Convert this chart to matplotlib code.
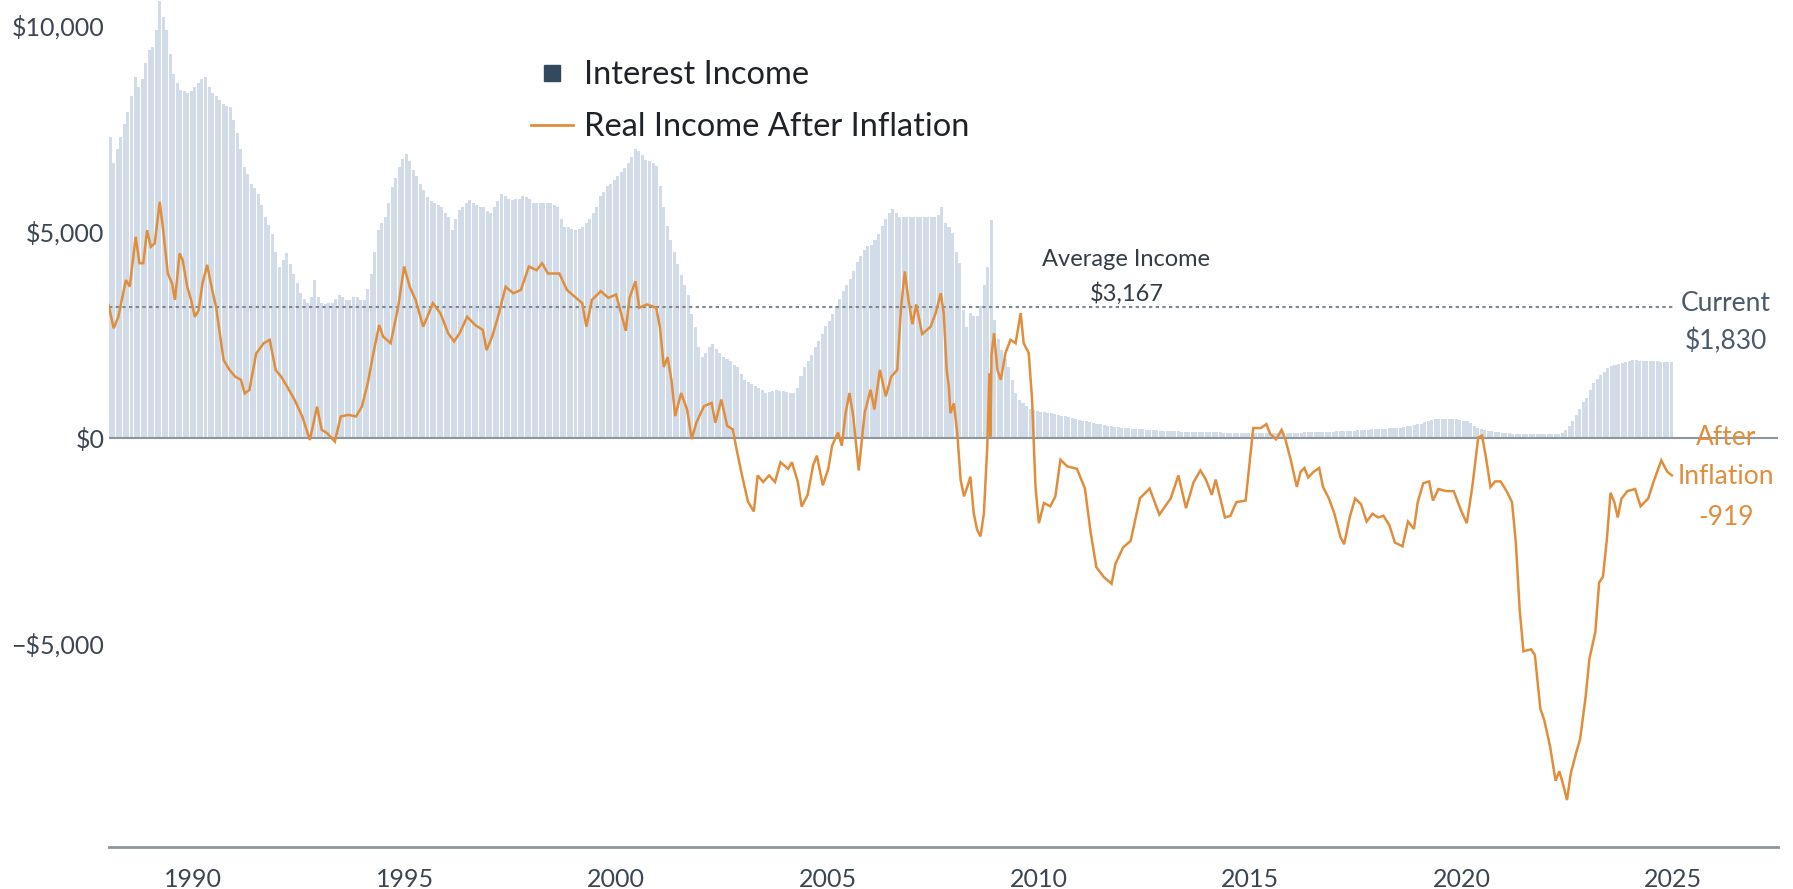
import matplotlib
matplotlib.use("Agg")
import matplotlib.pyplot as plt
from matplotlib.lines import Line2D
from matplotlib.ticker import FixedLocator
import numpy as np

plt.rcParams['font.family'] = ['Lato', 'DejaVu Sans']

# ---------------- data ----------------
bar_start_year = 1988
# monthly interest income, Jan 1988 .. Dec 2024
interest_income = [
    7300, 6650, 7000, 7300, 7600, 7900, 8300, 8750, 8500, 8700, 9100, 9400,   # 1988
    9480, 9900, 10600, 10200, 9880, 9300, 8830, 8600, 8430, 8400, 8350, 8400, # 1989
    8500, 8600, 8700, 8750, 8500, 8350, 8300, 8200, 8100, 8050, 8020, 7700,   # 1990
    7380, 7000, 6570, 6400, 6160, 6050, 5920, 5650, 5360, 5150, 4950, 4500,   # 1991
    4150, 4300, 4470, 4200, 3980, 3750, 3500, 3350, 3260, 3400, 3820, 3400,   # 1992
    3260, 3250, 3260, 3260, 3350, 3460, 3400, 3340, 3340, 3420, 3400, 3340,   # 1993
    3340, 3600, 3980, 4500, 5030, 5200, 5360, 5700, 6080, 6300, 6570, 6750,   # 1994
    6890, 6700, 6490, 6350, 6160, 6000, 5840, 5750, 5700, 5650, 5600, 5450,   # 1995
    5360, 5030, 5300, 5520, 5600, 5700, 5760, 5700, 5650, 5600, 5600, 5500,   # 1996
    5440, 5600, 5750, 5920, 5850, 5800, 5760, 5800, 5800, 5850, 5840, 5800,   # 1997
    5700, 5680, 5690, 5700, 5680, 5680, 5650, 5600, 5300, 5110, 5100, 5050,   # 1998
    5030, 5050, 5100, 5200, 5300, 5450, 5600, 5860, 5950, 6100, 6150, 6250,   # 1999
    6340, 6450, 6550, 6660, 6800, 7000, 6950, 6850, 6740, 6700, 6650, 6580,   # 2000
    6100, 5600, 5140, 4800, 4500, 4200, 3950, 3700, 3470, 3000, 2670, 2200,   # 2001
    1950, 2050, 2200, 2270, 2150, 2050, 1950, 1900, 1850, 1750, 1710, 1550,   # 2002
    1400, 1350, 1300, 1240, 1200, 1150, 1080, 1100, 1120, 1160, 1140, 1120,   # 2003
    1100, 1080, 1080, 1200, 1500, 1710, 1850, 2000, 2190, 2350, 2500, 2700,   # 2004
    2830, 3000, 3200, 3350, 3550, 3700, 3850, 4050, 4270, 4400, 4550, 4650,   # 2005
    4670, 4800, 4950, 5140, 5300, 5450, 5540, 5450, 5340, 5340, 5350, 5340,   # 2006
    5340, 5340, 5350, 5340, 5360, 5360, 5350, 5400, 5600, 5200, 5100, 4960,   # 2007
    4500, 4230, 3100, 2690, 3020, 2940, 2950, 3180, 3700, 4150, 5280, 2860,   # 2008
    2400, 2130, 1900, 1720, 1400, 1080, 900, 830, 760, 700, 670, 650,         # 2009
    630, 610, 600, 590, 570, 550, 530, 510, 490, 470, 450, 430,               # 2010
    410, 400, 380, 360, 340, 320, 300, 280, 270, 260, 250, 240,               # 2011
    230, 220, 210, 205, 200, 195, 190, 185, 180, 175, 170, 165,               # 2012
    160, 155, 150, 148, 145, 142, 140, 138, 136, 135, 133, 130,               # 2013
    128, 126, 124, 122, 120, 118, 116, 115, 114, 113, 112, 111,               # 2014
    110, 110, 110, 110, 110, 110, 110, 110, 110, 110, 110, 112,               # 2015
    115, 118, 120, 122, 124, 126, 128, 130, 132, 135, 138, 142,               # 2016
    146, 150, 155, 160, 165, 170, 175, 180, 185, 190, 195, 200,               # 2017
    205, 210, 215, 220, 225, 230, 240, 255, 270, 290, 310, 320,               # 2018
    340, 370, 400, 430, 445, 455, 460, 460, 455, 450, 440, 425,               # 2019
    410, 390, 350, 290, 230, 200, 180, 160, 150, 140, 130, 120,               # 2020
    110, 100, 95, 90, 88, 85, 82, 80, 78, 76, 75, 75,                         # 2021
    75, 75, 78, 85, 110, 180, 280, 400, 550, 700, 850, 950,                   # 2022
    1150, 1320, 1420, 1520, 1600, 1680, 1740, 1760, 1790, 1820, 1840, 1860,   # 2023
    1870, 1870, 1865, 1860, 1860, 1855, 1850, 1850, 1840, 1840, 1835, 1830,   # 2024
]

# real income after inflation (dates in decimal years, values in $)
line_years = [
    1988.00, 1988.12, 1988.23, 1988.41, 1988.50, 1988.64, 1988.73, 1988.82, 1988.91,
    1989.00, 1989.09, 1989.21, 1989.30, 1989.40, 1989.50, 1989.57, 1989.68, 1989.75, 1989.86, 1989.95,
    1990.04, 1990.13, 1990.22, 1990.33, 1990.45, 1990.54, 1990.63, 1990.72, 1990.86, 1990.99,
    1991.13, 1991.22, 1991.33, 1991.49, 1991.67, 1991.81, 1991.95,
    1992.08, 1992.22, 1992.40, 1992.58, 1992.76, 1992.93,
    1993.04, 1993.17, 1993.35, 1993.49, 1993.67, 1993.85, 1993.99,
    1994.13, 1994.26, 1994.40, 1994.49, 1994.67, 1994.85, 1994.99,
    1995.12, 1995.26, 1995.44, 1995.67, 1995.85,
    1996.03, 1996.17, 1996.30, 1996.48, 1996.67, 1996.85, 1996.94,
    1997.07, 1997.21, 1997.39, 1997.57, 1997.75, 1997.94,
    1998.12, 1998.25, 1998.39, 1998.66, 1998.84,
    1999.02, 1999.20, 1999.30, 1999.43, 1999.64, 1999.82,
    2000.00, 2000.23, 2000.32, 2000.46, 2000.55, 2000.73, 2000.95,
    2001.04, 2001.13, 2001.22, 2001.31, 2001.40, 2001.54, 2001.68, 2001.79, 2001.90,
    2002.08, 2002.26, 2002.35, 2002.49, 2002.63, 2002.76, 2002.85, 2002.98,
    2003.12, 2003.26, 2003.35, 2003.48, 2003.62, 2003.76, 2003.89,
    2004.07, 2004.16, 2004.30, 2004.39, 2004.53, 2004.66, 2004.75, 2004.89,
    2005.02, 2005.11, 2005.25, 2005.34, 2005.43, 2005.52, 2005.61, 2005.74, 2005.88,
    2006.02, 2006.11, 2006.24, 2006.38, 2006.51, 2006.65, 2006.74, 2006.83, 2006.92,
    2007.01, 2007.10, 2007.24, 2007.44, 2007.56, 2007.68, 2007.75, 2007.82, 2007.87, 2007.91, 2007.99,
    2008.07, 2008.15, 2008.23, 2008.31, 2008.38, 2008.46, 2008.54, 2008.62, 2008.70, 2008.78,
    2008.83, 2008.855, 2008.88, 2008.94,
    2009.02, 2009.10, 2009.21, 2009.33, 2009.45, 2009.57, 2009.64, 2009.76, 2009.84, 2009.92,
    2010.00, 2010.12, 2010.27, 2010.39, 2010.51, 2010.67, 2010.90,
    2011.09, 2011.22, 2011.36, 2011.54, 2011.72, 2011.81, 2011.99,
    2012.17, 2012.39, 2012.62, 2012.85,
    2013.12, 2013.30, 2013.48, 2013.66, 2013.82, 2013.95,
    2014.09, 2014.18, 2014.27, 2014.40, 2014.53, 2014.67, 2014.89, 2014.98,
    2015.07, 2015.25, 2015.38, 2015.47, 2015.61, 2015.74, 2015.83, 2015.96,
    2016.10, 2016.19, 2016.28, 2016.37, 2016.50, 2016.63, 2016.72, 2016.86, 2016.99,
    2017.13, 2017.22, 2017.35, 2017.48, 2017.62, 2017.75, 2017.89,
    2018.02, 2018.15, 2018.29, 2018.42, 2018.60, 2018.73, 2018.87, 2018.96,
    2019.09, 2019.23, 2019.32, 2019.45, 2019.63, 2019.81, 2019.98,
    2020.12, 2020.25, 2020.39, 2020.48, 2020.57, 2020.68, 2020.79, 2020.92,
    2021.06, 2021.19, 2021.28, 2021.37, 2021.46, 2021.64, 2021.73, 2021.86, 2021.95,
    2022.09, 2022.22, 2022.31, 2022.40, 2022.49, 2022.58, 2022.71, 2022.80, 2022.93,
    2023.02, 2023.16, 2023.25, 2023.34, 2023.43, 2023.52, 2023.61, 2023.69, 2023.78, 2023.92,
    2024.10, 2024.23, 2024.41, 2024.54, 2024.72, 2024.86, 2024.97,
]
line_values = [
    3216, 2650, 2930, 3820, 3660, 4870, 4230, 4230, 5030,
    4630, 4710, 5720, 4950, 3980, 3740, 3340, 4470, 4310, 3660, 3340,
    2930, 3090, 3740, 4190, 3580, 3180, 2530, 1880, 1640, 1480,
    1400, 1070, 1155, 2040, 2290, 2370, 1640,
    1480, 1240, 910, 510, -60, 750,
    185, 105, -100, 510, 550, 510, 750,
    1320, 2040, 2730, 2450, 2290, 3180, 4150,
    3660, 3340, 2690, 3260, 3010,
    2530, 2330, 2530, 2930, 2730, 2610, 2120,
    2450, 2930, 3660, 3500, 3580, 4150,
    4060, 4230, 3980, 3980, 3580,
    3420, 3260, 2690, 3340, 3550, 3390,
    3470, 2590, 3390, 3790, 3150, 3230, 3150,
    2670, 1710, 1950, 1400, 520, 1080, 680, -40, 360,
    760, 840, 360, 920, 280, 200, -280, -920,
    -1555, -1795, -920, -1080, -920, -1080, -600,
    -760, -600, -1080, -1675, -1400, -680, -440, -1160,
    -760, -200, 120, -200, 600, 1080, 520, -800, 600,
    1160, 680, 1640, 1000, 1480, 1640, 3150, 4030, 3310,
    2750, 3230, 2510, 2690, 3020, 3500, 3020, 1640, 1240, 590, 830,
    105, -1030, -1430, -1190, -950, -1840, -2240, -2400, -1840, -220,
    1560, 25, 2000, 2530,
    1640, 1400, 2050, 2370, 2290, 3020, 2290, 2050, 910, -1190,
    -2080, -1590, -1670, -1430, -540, -700, -760,
    -1240, -2270, -3150, -3390, -3550, -3070, -2670,
    -2510, -1475, -1240, -1870,
    -1475, -920, -1715, -1080, -800, -1020,
    -1390, -1020, -1390, -1940, -1900, -1570, -1530, -650,
    230, 230, 325, 90, -45, 185, -45, -555,
    -1200, -830, -740, -970, -830, -740, -1200, -1480, -1850,
    -2410, -2590, -1940, -1480, -1620, -2040, -1850,
    -1940, -1900, -2130, -2550, -2640, -2040, -2220, -1570,
    -1110, -1065, -1530, -1250, -1300, -1300, -1760,
    -2080, -1200, 0, 45, -460, -1200, -1065, -1065,
    -1300, -1570, -2550, -4170, -5190, -5140, -5280, -6580, -6850,
    -7500, -8330, -8100, -8430, -8800, -8150, -7640, -7320, -6300,
    -5370, -4720, -3520, -3380, -2500, -1340, -1570, -1940, -1480, -1300,
    -1250, -1670, -1480, -1065, -555, -830, -919,
]

avg_income = 3167
ytick_values = [-5000, 0, 5000, 10000]
ytick_labels = ['\u2212$5,000', '$0', '$5,000', '$10,000']
xtick_years = [1990, 1995, 2000, 2005, 2010, 2015, 2020, 2025]

# ---------------- styling ----------------
BAR_COLOR = '#d2dce8'
LEGEND_BAR_COLOR = '#34495e'
ORANGE = '#e08d3c'
AXIS_GRAY = '#8c969f'
TICK_COLOR = '#3b4652'
SLATE = '#4a5a6a'

W_PX, H_PX = 1793, 889
fig = plt.figure(figsize=(W_PX / 100, H_PX / 100), dpi=100)
left, right, bottom, top = 108.6, 1778, 847, 0
ax = fig.add_axes([left / W_PX, 1 - bottom / H_PX, (right - left) / W_PX, (bottom - top) / H_PX])

n = len(interest_income)
bar_x = bar_start_year + (np.arange(n) + 0.5) / 12.0
ax.bar(bar_x, interest_income, width=0.86 / 12.0, color=BAR_COLOR, linewidth=0, zorder=1)

ax.axhline(0, color=AXIS_GRAY, lw=1.5, zorder=2)
ax.hlines(avg_income, bar_start_year, bar_x[-1] + 0.5 / 12, colors='#7d8a96',
          linestyles=(0, (1.6, 1.6)), lw=1.5, zorder=3)

ax.plot(line_years, line_values, color=ORANGE, lw=1.8, zorder=4,
        solid_joinstyle='miter')

ax.set_xlim(1988.0, 2027.48)
ax.set_ylim(-9938, 10618)

for s in ['top', 'right', 'left']:
    ax.spines[s].set_visible(False)
ax.spines['bottom'].set_color(AXIS_GRAY)
ax.spines['bottom'].set_linewidth(2)

ax.yaxis.set_major_locator(FixedLocator(ytick_values))
ax.set_yticklabels(ytick_labels)
ax.set_xticks(xtick_years)
ax.set_xticklabels([str(y) for y in xtick_years])
ax.tick_params(axis='both', length=0, labelsize=18, labelcolor=TICK_COLOR)
ax.tick_params(axis='y', pad=3)
ax.tick_params(axis='x', pad=15)

# annotations
ax.text(2012.07, 4310, 'Average Income', ha='center', va='center', fontsize=17, color='#333d47')
ax.text(2012.07, 3500, f'${avg_income:,}', ha='center', va='center', fontsize=17, color='#333d47')

ax.text(2026.25, 3250, 'Current', ha='center', va='center', fontsize=19, color=SLATE)
ax.text(2026.25, 2330, f'${interest_income[-1]:,}', ha='center', va='center', fontsize=19, color=SLATE)

ax.text(2026.25, 12, 'After', ha='center', va='center', fontsize=19, color=ORANGE)
ax.text(2026.25, -950, 'Inflation', ha='center', va='center', fontsize=19, color=ORANGE)
ax.text(2026.25, -1930, f'{line_values[-1]}', ha='center', va='center', fontsize=19, color=ORANGE)

handles = [
    Line2D([], [], marker='s', linestyle='none', markersize=12, color=LEGEND_BAR_COLOR),
    Line2D([], [], color=ORANGE, lw=2),
]
leg = ax.legend(handles, ['Interest Income', 'Real Income After Inflation'],
                loc='upper left', bbox_to_anchor=(531 / W_PX, 1 - 60 / H_PX),
                bbox_transform=fig.transFigure, frameon=False, fontsize=23.5,
                handlelength=1.3, handletextpad=0.33, labelspacing=0.68,
                borderpad=0, borderaxespad=0)
for t in leg.get_texts():
    t.set_color('#1f2328')

fig.savefig('out.png', dpi=100)
